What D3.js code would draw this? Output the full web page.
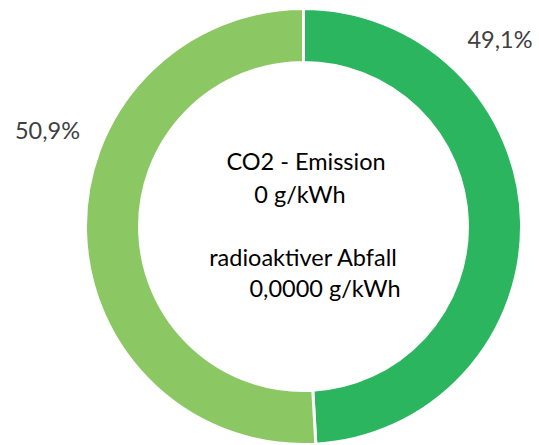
<!DOCTYPE html>
<html><head><meta charset="utf-8">
<script src="https://cdn.jsdelivr.net/npm/d3@7"></script>
<style>html,body{margin:0;padding:0;background:#fff;overflow:hidden}</style>
</head><body><svg id="c" width="539" height="445"></svg>
<script>
const categories = ["Anteil A", "Anteil B"];
const values = [49.1, 50.9];
const valueLabels = ["49,1%", "50,9%"];
const colors = ["#2BB55E", "#8BC763"];
const centerLines = ["CO2 - Emission", "0 g/kWh", "radioaktiver Abfall", "0,0000 g/kWh"];

const svg = d3.select("#c");
const cx = 303.5, cy = 226.5, R = 218, r = 164;
const g = svg.append("g").attr("transform", `translate(${cx},${cy})`);
const pie = d3.pie().sort(null).value(d => d)(values);
const arc = d3.arc().innerRadius(r).outerRadius(R);
g.selectAll("path").data(pie).join("path")
  .attr("d", arc).attr("fill", (d,i) => colors[i])
  .attr("stroke", "#fff").attr("stroke-width", 3);

const font = "Lato, 'Open Sans', sans-serif";
const fs = 23.5;
// slice labels
const labelPos = [[500, 47.5], [47.5, 139]];
svg.selectAll("text.lbl").data(valueLabels).join("text")
  .attr("class","lbl")
  .attr("x", (d,i) => labelPos[i][0]).attr("y", (d,i) => labelPos[i][1])
  .attr("text-anchor","middle").attr("font-family", font).attr("font-size", fs)
  .attr("fill","#404040").text(d => d);

const centerPos = [[306, 170], [300, 203], [303, 266], [325, 297]];
svg.selectAll("text.ctr").data(centerLines).join("text")
  .attr("class","ctr")
  .attr("x", (d,i) => centerPos[i][0]).attr("y", (d,i) => centerPos[i][1])
  .attr("text-anchor","middle").attr("font-family", font).attr("font-size", fs)
  .attr("fill","#000").text(d => d);
</script></body></html>
